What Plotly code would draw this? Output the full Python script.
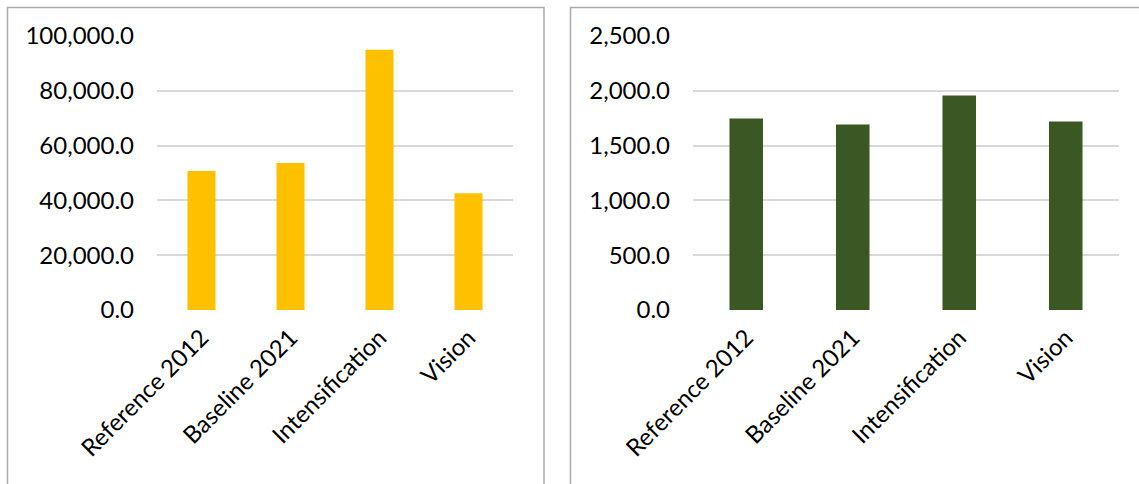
import plotly.graph_objects as go

W, H = 1139, 484

categories = ["Reference 2012", "Baseline 2021", "Intensification", "Vision"]
left_values = [50700, 53650, 95000, 42600]
right_values = [1747, 1693, 1956, 1720]

left_ticks = [0, 20000, 40000, 60000, 80000, 100000]
right_ticks = [0, 500, 1000, 1500, 2000, 2500]

YELLOW = "#FFC000"
GREEN = "#3A5724"
GRID = "#D9D9D9"
BORDER = "#ABABAB"
FONT = "Lato, Calibri, sans-serif"


def px_x(p):
    return p / W


def px_y(p):
    # pixel from top -> paper fraction
    return (H - p) / H


fig = go.Figure()

fig.add_trace(go.Bar(
    x=categories, y=left_values, marker_color=YELLOW,
    marker_line=dict(width=0), xaxis="x", yaxis="y", showlegend=False,
))
fig.add_trace(go.Bar(
    x=categories, y=right_values, marker_color=GREEN,
    marker_line=dict(width=0), xaxis="x2", yaxis="y2", showlegend=False,
))

y_dom = [px_y(310), px_y(36)]

common_x = dict(
    showgrid=False, showline=False, zeroline=False, automargin=False,
    tickangle=-45, tickfont=dict(family=FONT, size=24, color="#000"),
    ticks="", ticklabelstandoff=8,
)
common_y = dict(
    showgrid=True, gridcolor=GRID, gridwidth=1.6, showline=False,
    zeroline=False, automargin=False, tickformat=",.1f",
    tickfont=dict(family=FONT, size=24, color="#000"),
    ticks="", ticklabelstandoff=22,
)

fig.update_layout(
    width=W, height=H,
    margin=dict(l=0, r=0, t=0, b=0),
    paper_bgcolor="white", plot_bgcolor="white",
    bargap=0.685,
    xaxis=dict(domain=[px_x(157), px_x(513)], anchor="y", **common_x),
    yaxis=dict(domain=y_dom, anchor="x", range=[0, 100000],
               tickvals=left_ticks, **common_y),
    xaxis2=dict(domain=[px_x(693), px_x(1119)], anchor="y2", **common_x),
    yaxis2=dict(domain=y_dom, anchor="x2", range=[0, 2500],
                tickvals=right_ticks, **common_y),
    shapes=[
        dict(type="rect", xref="paper", yref="paper",
             x0=px_x(7.5), x1=px_x(544), y0=-0.1, y1=px_y(7.5),
             line=dict(color=BORDER, width=1.5), layer="below"),
        dict(type="rect", xref="paper", yref="paper",
             x0=px_x(570.5), x1=1.1, y0=-0.1, y1=px_y(7.5),
             line=dict(color=BORDER, width=1.5), layer="below"),
    ],
)

# page body has a default 8px margin; drop it so the figure sits at 0,0
fig.write_html(
    "out.html",
    config={"displayModeBar": False},
    post_script="document.body.style.margin='0';document.body.style.overflow='hidden';",
)
